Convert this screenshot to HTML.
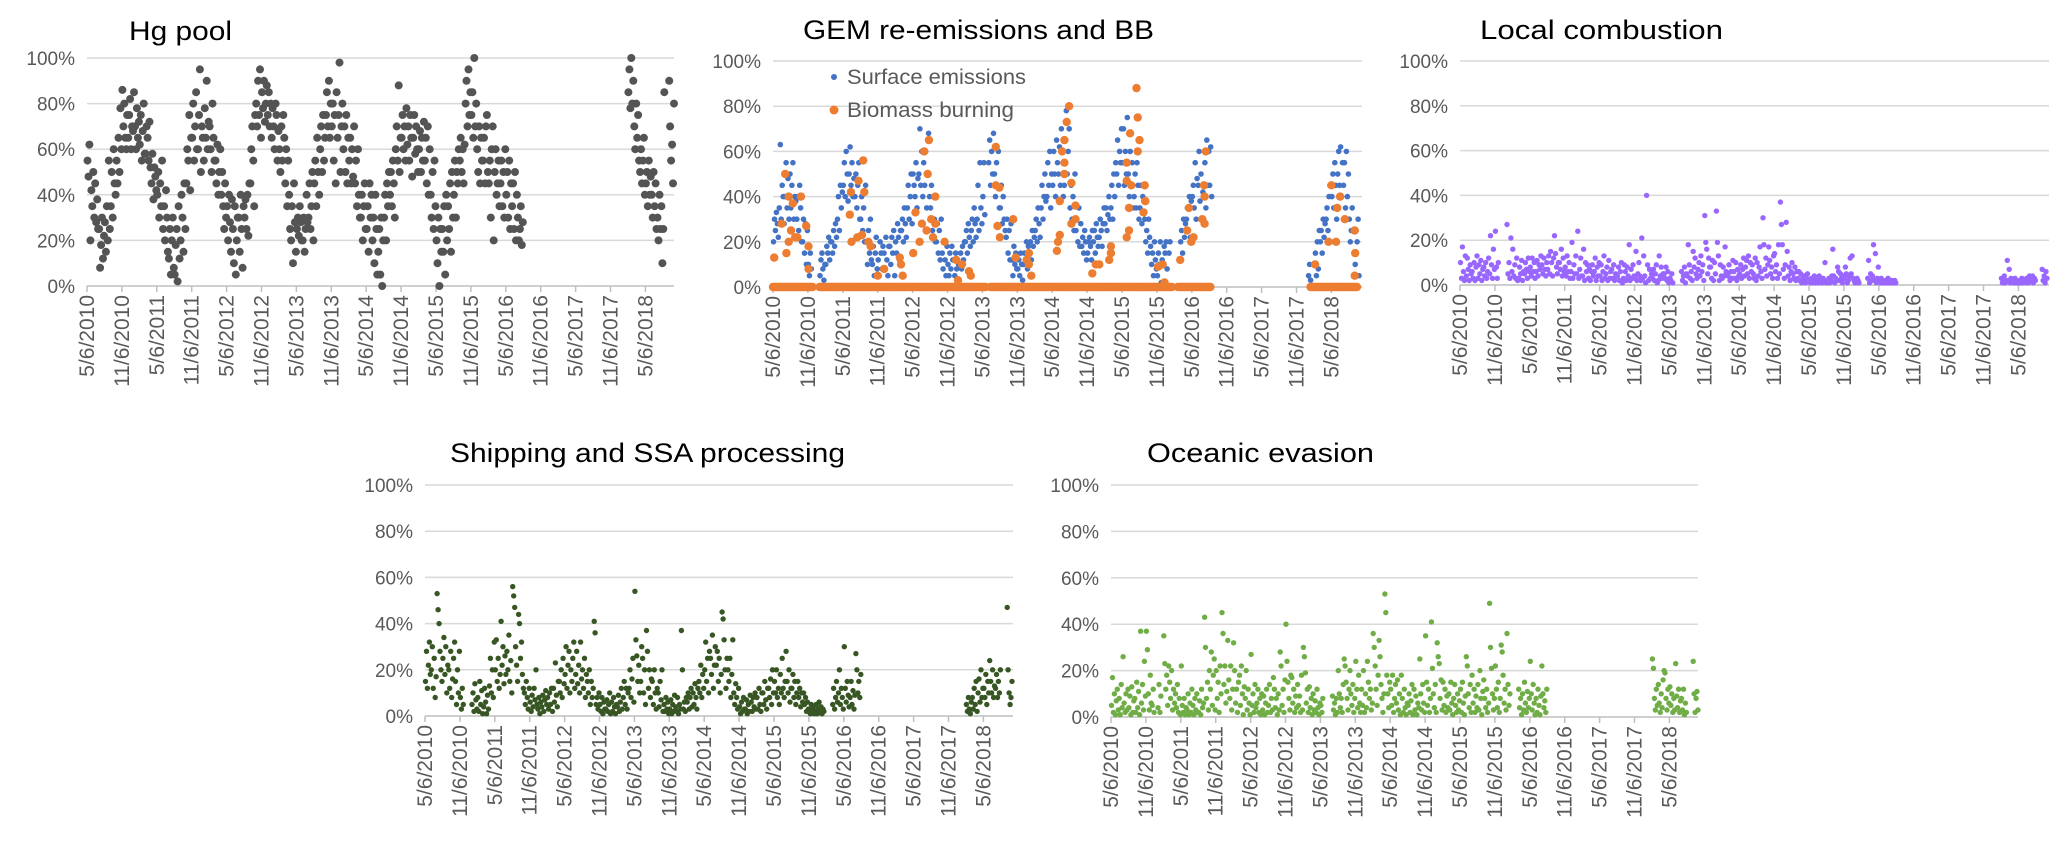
<!DOCTYPE html>
<html><head><meta charset="utf-8">
<style>
html,body{margin:0;padding:0;background:#fff;}
svg{display:block;font-family:"Liberation Sans",sans-serif;}
</style></head>
<body>
<svg id="chart" width="2067" height="845" viewBox="0 0 2067 845" xmlns="http://www.w3.org/2000/svg"></svg>
<script>
// ---- data (monthly bins, index 0 = May 2010) ----
const xTickLabels = ['5/6/2010','11/6/2010','5/6/2011','11/6/2011','5/6/2012','11/6/2012','5/6/2013','11/6/2013','5/6/2014','11/6/2014','5/6/2015','11/6/2015','5/6/2016','11/6/2016','5/6/2017','11/6/2017','5/6/2018'];
const yTickValues = [0,20,40,60,80,100];
const yTickLabels = ['0%','20%','40%','60%','80%','100%'];

const hgPool = [
[55,48,62,20,42,35],[50,30,45,28,38,25],[25,8,18,30,12,22],[28,15,35,20,55,25],[35,50,30,60,45,40],[55,45,65,50,78,60],
[86,70,80,65,60,75],[65,75,82,60,70,68],[85,70,60,78,65,72],[62,75,55,68,80,58],[58,70,65,55,72,52],[45,58,38,52,48,42],
[40,50,30,45,35,55],[25,35,20,42,30,15],[12,25,5,20,30,8],[5,18,25,2,35,12],[20,40,30,15,45,25],[45,60,55,75,42,65],
[65,80,55,70,85,60],[60,75,95,50,70,65],[55,78,65,90,60,72],[70,60,50,80,65,55],[55,45,62,40,50,60],[40,50,35,25,45,30],
[35,20,40,28,15,38],[25,10,35,5,20,30],[30,15,40,25,8,35],[30,38,25,40,22,45],[45,60,70,55,35,75],[80,70,90,75,95,65],
[85,78,90,72,80,88],[75,85,70,80,65,78],[70,60,80,75,55,68],[60,50,70,55,75,65],[45,60,35,55,40,25],[20,35,10,45,28,15],
[25,30,22,35,28,20],[20,30,15,25,40,28],[30,45,25,35,50,20],[45,55,35,65,50,40],[60,70,50,75,55,65],[75,85,70,90,65,80],
[70,80,55,75,45,85],[65,75,98,50,70,80],[60,70,50,75,45,65],[55,65,45,60,48,70],[45,55,35,60,40,30],[30,40,20,35,45,25],
[25,35,15,45,30,40],[20,30,10,40,25,5],[15,25,5,30,0,20],[30,40,20,45,35,50],[40,50,35,55,45,30],[60,70,55,88,50,65],
[65,75,60,70,55,78],[62,70,55,75,65,48],[65,75,58,70,60,50],[60,68,50,65,55,72],[55,65,45,70,40,60],[40,30,50,25,55,35],
[20,10,30,0,25,15],[25,15,35,5,40,20],[35,25,45,15,50,30],[40,55,30,50,45,60],[55,65,50,60,45,62],[80,90,70,95,75,85],
[75,85,65,100,70,80],[60,50,70,45,65,55],[55,65,45,70,75,50],[45,55,30,60,70,20],[50,60,40,45,55,35],[45,55,35,50,30,60],
[40,50,30,55,25,45],[35,45,25,50,20,40],[30,20,25,35,18,28],
[],[],[],[],[],[],[],[],[],[],[],[],[],[],[],[],[],[],
[85,95,78,100,80,90],[70,60,80,65,75,55],[50,60,45,55,65,40],[45,50,35,55,40,48],[40,30,50,35,45,25],[30,20,40,25,35,10],[25,85],[90,70,55,62,45,80]
];

const surfaceEmissions = [
[20,30,25,33,28,22],[35,63,30,45,40,28],[40,55,35,48,30,50],[35,45,55,30,40,38],[30,40,25,45,35,20],[20,30,15,28,10,25],[10,5,15,8],[],
[5,12,15,8,3,10],[10,18,15,22,12,20],[20,15,25,18,28,22],[30,40,25,45,35,42],[45,55,40,60,50,38],[50,62,45,55,40,48],[40,50,35,45,55,30],[30,40,25,35,20,45],
[20,10,25,15,30,12],[10,18,5,15,22,8],[12,5,20,15,8,18],[15,8,22,12,5,18],[18,10,22,15,25,5],[20,15,28,22,12,25],[25,30,20,35,28,22],[35,45,30,40,50,28],
[50,45,40,55,35,48],[50,70,45,60,40,55],[45,60,35,50,68,40],[35,45,25,40,30,20],[20,28,15,25,12,30],[15,8,20,12,5,18],[10,5,15,8,18,12],[12,5,15,8,2,10],
[10,15,8,18,12,20],[20,25,15,28,22,18],[25,30,20,35,28,22],[30,45,25,55,35,28],[40,55,32],[55,65,45,60,50,68],[50,40,55,45,60,35],[35,45,28,40,30,25],
[22,30,15,25,12,28],[12,5,18,10,15,8],[8,12,5,15,10,3],[10,15,12,20,8,18],[15,20,12,25,18,22],[25,30,20,35,28,22],[35,45,30,40,50,38],[40,55,45,60,35,50],
[45,60,50,40,65,55],[50,62,45,70,60,40],[45,55,78,50,60,70],[35,45,30,40,25,50],[25,30,20,35,18,28],[18,22,15,25,20,12],[15,20,22,18,12,25],[20,25,15,28,22,18],
[22,30,25,18,28,35],[28,35,25,32,40,30],[35,45,30,50,40,55],[50,65,45,60,55,70],[55,70,45,60,50,75],[50,40,60,45,55,35],[40,50,35,55,45,30],[35,45,28,40,38,30],
[20,25,15,30,22,18],[10,15,5,20,12,8],[5,15,10,20,2,12],[10,18,15,20,8],[15,20],[],
[20,25,15,30,22,28],[30,35,25,40,22,38],[40,45,35,55,30,48],[45,60,38,50,30,42],[40,55,35,65,45,60],[45,62,40],
[],[],[],[],[],[],[],[],[],[],[],[],[],[],[],[],
[5,10,3],[10,15,5,20,8,25],[20,25,15,30,22,28],[30,35,25,40,45,20],[40,50,35,55,45,30],[50,60,45,62,40,55],[45,55,35,60,40,50],[30,20,25,35],[10,25,20,30,5]
];

const bbZeroStart = [0,8,37.4,69.6,92.4];
const bbZeroEnd = [6.9,36.7,68.8,75.3,100.6];
const bbMonths = [0.2,1.5,2.1,2.3,2.7,3.4,4.2,4.8,5.7,6.1,6.1,2.7,3.1,3.8,
13.2,13.4,13.5,14.7,15.5,14.5,15.3,15.7,16.4,16.8,
18,19.1,21.8,22,22.3,
24.1,24.5,26,26.8,26.6,25.6,26.4,27.2,27.5,27.9,25.2,27.9,
29.5,31.5,32.5,33.7,34,31.8,
38.3,38.3,38.9,38.6,39,41.3,41.7,43.6,44,44,44.4,
48.8,49,49.3,49.3,49.7,50.1,50.5,50.9,50.1,50.1,51.3,52,52,51.3,
54.9,55.5,56.1,58.1,58.1,57.8,
60.8,60.8,61.2,61.4,62.5,62.7,63,62.7,63.9,64,60.8,61.2,63.7,61.6,
66.2,67,67.3,
70,71.2,71.5,71.9,72.3,73.8,74.1,74.4,74.2,74.2,
93.2,95.5,96,96.8,97,97.5,98.3,100,100,100.1];
const bbValues = [13,28,50,15,40,37,22,40,27,8,18,20,25,22,
32,42,20,47,56,22,23,42,20,18,
5,8,13,10,5,
15,33,60,65,50,28,25,30,22,40,20,28,
20,12,10,7,5,3,
62,45,44,27,22,30,13,12,10,15,5,
16,20,23,38,60,65,73,80,55,50,46,36,30,28,
6,10,10,18,15,12,
55,47,35,68,88,75,65,60,45,38,22,25,33,45,
9,10,2,
12,25,35,20,22,30,45,60,40,28,
10,20,45,20,35,40,30,5,25,15];

const localCombustion = [
[10,3,17,6,2,13],[4,12,7,2,9,5],[6,3,10,2,8,13],[3,9,5,11,2,7],[8,4,10,3,6,12],[5,22,9,3,16,7],[24,8,3,10],[],
[27,5,10,3,21,6],[16,4,9,3,12,2],[3,8,5,11,2,6],[5,10,7,3,12,6],[8,4,12,6,10,3],[6,11,4,9,7,13],[9,5,12,7,4,10],[7,13,5,15,10,4],
[12,22,14,8,5,10],[10,7,16,4,12,6],[8,4,13,6,10,3],[6,19,3,9,5,13],[5,24,3,7,12,4],[4,16,2,10,6,9],[3,7,2,6,9,4],[6,12,2,8,4,10],
[4,9,2,6,13,3],[5,8,2,11,3,6],[7,3,9,2,5,4],[4,8,2,6,10,1],[3,9,6,2,8,4],[18,2,7,3,9,4],[3,15,2,5,10,4],[2,21,3,13,4,1],
[40,9,2,7,3,5],[3,7,2,5,9,1],[2,13,4,8,3,5],[5,3,8,2,6,1],[3,2,5,1],[],
[6,2,4,8,1,5],[4,18,9,3,6,2],[15,8,12,5,3,7],[10,4,13,6,9,2],[31,19,16,5,12,8],[8,3,11,2,10,5],[33,19,13,2,9,4],[3,8,4,17,6,5],
[4,9,2,6,3,11],[6,3,10,2,7,4],[5,9,3,7,12,4],[8,11,5,13,3,10],[6,9,5,3,12,2],[10,4,8,17,6,3],[30,18,7,12,4,9],[17,11,5,8,3,13],
[14,6,9,3,18,5],[37,27,18,7,3,9],[28,15,4,8,2,6],[10,5,3,8,2,6],[3,6,2,5,1,4],[2,4,1,3,5,2],
[2,1,3,1,2,4],[1,3,2,1,4,2],[2,1,3,2,10,1],[1,2,3,1,2,4],[16,4,1,3,2,8],[6,2,5,3,1,4],[3,8,5,1,2,4],[12,5,13,3,2,1],[1,3,2,1],[],
[3,11,1,5,2,4],[18,2,14,1,3,8],[2,1,3,1,2,1],[1,2,1,3,1,2],[1,2,1,1,2,1],
[],[],[],[],[],[],[],[],[],[],[],[],[],[],[],[],[],[],
[3,1,2,4,1,2],[11,2,7,1,3,2],[2,1,3,1,2,1],[1,2,1,3,1,2],[2,1,3,2,1,4],[3,2,4,1,3,2],[],[7,2,4,1,6,3]
];

const shippingSSA = [
[15,28,12,22,32,18],[20,30,12,25,8,17],[53,46,40,28,20,15],[25,34,18,30,10,22],[20,12,28,8,16,25],[32,15,5,20,10,28],[8,3,12,5],[],
[5,10,2,14,7,3],[8,2,15,5,11,1],[4,12,6,1,9,3],[13,25,10,20,8,32],[20,33,15,25,12,18],[41,22,30,14,26,18],[28,20,35,15,24,10],[56,52,47,30,22,15],
[44,40,25,32,18,12],[10,5,15,8,3,12],[6,2,9,4,12,7],[20,5,3,8,1,6],[4,9,2,7,11,5],[8,3,10,5,12,2],[12,6,23,9,4,15],[15,10,20,8,25,14],
[18,30,12,22,28,10],[20,15,25,32,12,18],[28,14,22,10,32,16],[20,12,25,8,18,15],[10,20,5,15,8,12],[41,36,5,8,3,10],[5,2,8,1,6,3],[3,7,2,5,10,1],
[6,2,8,4,1,5],[4,9,2,6,12,3],[8,15,5,12,3,10],[12,20,8,16,25,6],[54,33,26,15,22,10],[15,30,25,10,20,5],[37,28,12,20,8,16],[15,5,20,10,3,12],
[10,4,15,7,20,2],[5,2,8,3,6,1],[3,7,1,5,2,9],[4,2,8,1,5,3],[37,20,3,6,2,8],[6,10,3,8,12,4],[10,5,14,8,3,12],[15,10,22,8,18,12],
[20,32,15,25,10,28],[25,18,35,12,22,30],[22,28,15,25,10,18],[45,42,33,20,12,25],[20,15,25,8,18,33],[10,5,14,8,3,12],[4,1,6,2,8,3],[3,7,1,5,2,9],
[6,2,8,4,10,3],[8,3,12,5,2,10],[10,5,15,7,3,12],[12,8,16,5,20,10],[15,10,20,8,12,5],[18,10,25,12,8,15],[28,15,10,20,6,12],[12,18,8,15,5,10],
[15,8,12,4,10,6],[10,5,8,2,6,3],[3,1,5,2,4,1],[2,5,1,3,6,2],[4,1,3,2],[],
[5,12,3,8,15,6],[10,20,5,12,8,3],[30,12,6,15,9,4],[8,15,5,11,3,9],[27,20,10,15,8,18],
[],[],[],[],[],[],[],[],[],[],[],[],[],[],[],[],[],[],
[5,2,8,3,1,6],[8,3,12,5,15,2],[10,16,6,20,8,12],[12,8,18,5,15,10],[24,15,10,20,8,13],[12,18,8,15,10,20],[],[47,20,10,5,8,15]
];

const oceanicEvasion = [
[5,17,2,10,1,7],[12,3,8,1,14,4],[26,6,2,10,3,12],[4,9,1,13,2,7],[8,2,15,4,11,1],[37,6,14,3,24,9],[37,29,10,3,18,6],[5,12,2],
[4,14,2,9],[35,23,12,18,5,22],[15,8,20,3,12,6],[10,4,14,2,8,1],[22,5,2,8,1,4],[3,10,1,6,2,12],[5,1,8,3,10,2],[2,7,1,12,4,6],
[43,30,8,15,3,20],[12,28,5,18,25,3],[20,8,15,2,22,10],[45,36,14,22,6,11],[33,16,8,22,3,12],[32,20,6,12,2,15],[18,5,22,10,1,13],[8,20,3,12,6,1],
[27,5,10,2,14,4],[6,12,2,8,1,10],[3,9,1,6,12,2],[5,14,2,8,3,17],[12,4,8,1,10,3],[28,22,5,12,2,16],[40,24,15,8,3,18],[17,6,12,2,9,4],
[14,5,9,2,18,3],[30,26,19,6,12,2],[13,4,8,1,10,3],[7,2,12,4,1,6],[5,2,8],[],
[9,3,6,1,8,2],[20,10,4,8,2,14],[25,22,15,8,3,12],[20,10,5,14,2,8],[24,12,4,18,6,2],[12,5,20,2,10,4],[24,15,8,12,3,6],[36,30,22,12,5,18],
[33,26,14,8,2,10],[53,45,18,10,4,15],[12,5,18,2,8,14],[6,16,3,10,1,18],[8,2,12,4,1,6],[5,10,2,7,14,1],[12,3,9,1,6,4],[25,10,3,14,6,2],
[35,15,5,12,2,8],[41,21,10,4,14,2],[32,26,23,8,16,3],[15,5,12,2,9,4],[10,3,15,6,1,8],[14,5,2,10,3,7],[12,2,15,6,1,9],[26,22,10,4,14,2],
[18,6,12,2,9,4],[14,3,20,8,1,11],[16,8,4,12,2,6],[49,30,21,10,3,8],[22,12,4,15,2,8],[31,28,18,6,12,3],[36,14,5,10],[],
[12,4,8,1,10,3],[15,6,2,11,4,8],[24,10,3,14,6,1],[8,2,12,5,1,9],[22,10,4,7,2,12],
[],[],[],[],[],[],[],[],[],[],[],[],[],[],[],[],[],[],
[25,21,8,3,12,5],[14,6,2,10,4,16],[20,19,8,3,12,6],[13,5,10,2,8,3],[23,9,4,12,2,7],[8,3,12,1,6,2],[],[24,10,2,8,11,3]
];

// ---- layout ----
const NS = 'http://www.w3.org/2000/svg';
const svg = document.getElementById('chart');
function mk(tag, attrs, parent) {
  const e = document.createElementNS(NS, tag);
  for (const k in attrs) e.setAttribute(k, attrs[k]);
  (parent || svg).appendChild(e);
  return e;
}
const panels = [
  {key:'hg-pool', L:87, R:674, T:58, B:286, title:'Hg pool', tx:129, ty:40, tw:103},
  {key:'gem-bb', L:773, R:1362, T:61, B:287, title:'GEM re-emissions and BB', tx:803, ty:39, tw:351},
  {key:'local-combustion', L:1460, R:2049, T:61, B:285, title:'Local combustion', tx:1480, ty:39, tw:243},
  {key:'shipping-ssa', L:425, R:1013, T:485, B:716, title:'Shipping and SSA processing', tx:450, ty:462, tw:395},
  {key:'oceanic-evasion', L:1111, R:1698, T:485, B:717, title:'Oceanic evasion', tx:1147, ty:462, tw:227}
];
const halfYearPx = 34.9;
function xScale(p, m) { return p.L + m * halfYearPx / 6; }
function yScale(p, v) { return p.B - v / 100 * (p.B - p.T); }

function drawAxes(p) {
  const g = mk('g', {});
  
  
  const t = mk('text', {x:p.tx, y:p.ty, 'font-size':27, fill:'#000', textLength:p.tw, lengthAdjust:'spacingAndGlyphs'}, g);
  t.textContent = p.title;
  
  
  yTickValues.forEach((v, i) => {
    const y = yScale(p, v);
    const gl = mk('line', {x1:p.L, x2:p.R, y1:y, y2:y, stroke: v === 0 ? '#bfbfbf' : '#d9d9d9', 'stroke-width':1.5}, g);
    
    
    const lb = mk('text', {x:p.L - 12, y:y + 7, 'font-size':19, fill:'#595959', 'text-anchor':'end'}, g);
    lb.textContent = yTickLabels[i];
    
    
  });
  xTickLabels.forEach((s, i) => {
    const x = xScale(p, i * 6);
    const tk = mk('line', {x1:x, x2:x, y1:p.B, y2:p.B + 6, stroke:'#bfbfbf', 'stroke-width':1.5}, g);
    
    
    const lx = x + 7, ly = p.B + 9;
    const lb = mk('text', {x:lx, y:ly, 'font-size':21, fill:'#595959', 'text-anchor':'end', transform:'rotate(-90 ' + lx + ' ' + ly + ')'}, g);
    lb.textContent = s;
    
    
  });
  return g;
}

function drawMonthly(p, arr, color, r, name) {
  const g = mk('g', {fill: color});
  
  
  arr.forEach((vals, i) => {
    vals.forEach((v, k) => {
      const m = i + (k + 0.5) / 6;
      const c = mk('circle', {cx: xScale(p, m).toFixed(1), cy: yScale(p, v).toFixed(1), r: r}, g);
      
      
    });
  });
}

const gAxes = panels.map(drawAxes);

// Panel 1
drawMonthly(panels[0], hgPool, '#545454', 4, 'hg-pool-series');
// Panel 2
drawMonthly(panels[1], surfaceEmissions, '#4472C4', 2.8, 'surface-emissions-series');
(function () {
  const p = panels[1];
  const g = mk('g', {fill:'#ED7D31'});
  
  
  bbZeroStart.forEach((s, j) => {
    for (let m = s; m <= bbZeroEnd[j]; m += 0.2) {
      const c = mk('circle', {cx: xScale(p, m).toFixed(1), cy: yScale(p, 0).toFixed(1), r: 4.2}, g);
      
      
    }
  });
  bbMonths.forEach((m, i) => {
    const c = mk('circle', {cx: xScale(p, m).toFixed(1), cy: yScale(p, bbValues[i]).toFixed(1), r: 4.2}, g);
    
    
  });
  // legend
  const lg = mk('g', {});
  
  
  const d1 = mk('circle', {cx:834, cy:77, r:3, fill:'#4472C4'}, lg);
  
  
  const t1 = mk('text', {x:847, y:84, 'font-size':21, fill:'#595959', textLength:179, lengthAdjust:'spacingAndGlyphs'}, lg);
  t1.textContent = 'Surface emissions';
  
  
  const d2 = mk('circle', {cx:834, cy:110, r:4.5, fill:'#ED7D31'}, lg);
  
  
  const t2 = mk('text', {x:847, y:117, 'font-size':21, fill:'#595959', textLength:167, lengthAdjust:'spacingAndGlyphs'}, lg);
  t2.textContent = 'Biomass burning';
  
  
})();
// Panels 3-5
drawMonthly(panels[2], localCombustion, '#9966FF', 2.7, 'local-combustion-series');
drawMonthly(panels[3], shippingSSA, '#375623', 2.7, 'shipping-ssa-series');
drawMonthly(panels[4], oceanicEvasion, '#70AD47', 2.7, 'oceanic-evasion-series');
</script>
</body></html>
